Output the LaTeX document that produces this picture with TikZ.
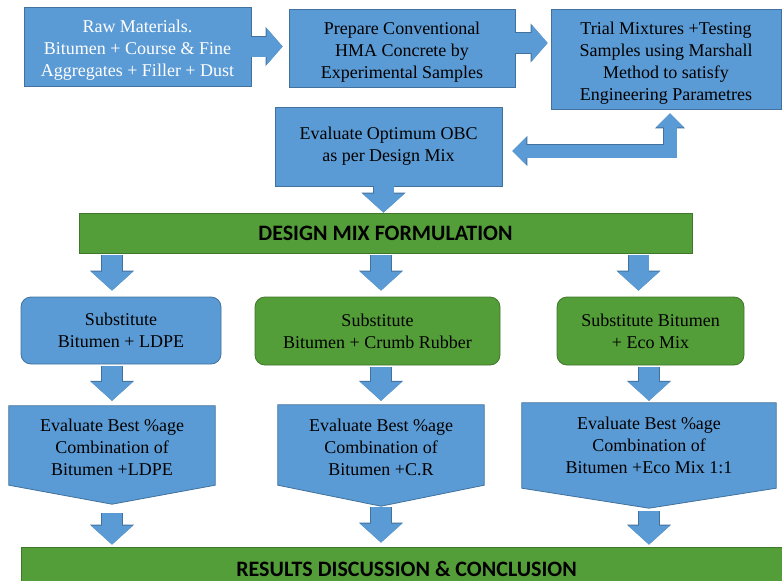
\documentclass[tikz,border=0pt]{standalone}
\usepackage{fontspec}
\setmainfont{Liberation Serif}
\newfontfamily\calibri{Carlito}
\usetikzlibrary{arrows.meta, backgrounds}
\definecolor{boxblue}{RGB}{91,155,213}
\definecolor{blueedge}{RGB}{65,113,156}
\definecolor{boxgreen}{RGB}{84,158,57}
\definecolor{greenedge}{RGB}{62,118,42}
\newcommand\padtop[1]{\rule{0pt}{#1}}
\tikzset{
	box/.style={draw=blueedge, fill=boxblue, line width=0.8pt, align=center, inner sep=2pt, font=\fontsize{18}{22}\selectfont},
	greenbox/.style={box, draw=greenedge, fill=boxgreen},
	roundbox/.style={rounded corners=10pt},
	evaltext/.style={align=center, inner sep=0pt, font=\fontsize{18}{22}\selectfont},
	pentagon/.style={draw=blueedge, fill=boxblue, line width=0.8pt},
	bar/.style={draw=greenedge, fill=boxgreen, line width=0.8pt, font=\calibri\bfseries\fontsize{22}{24}\selectfont},
	fat/.style={line width=20pt, draw=boxblue, -{Triangle[width=41pt,length=19pt]}, preaction={draw=blueedge, line width=21.4pt, -{Triangle[width=43pt,length=20pt]}}},
	sidefat/.style={line width=20pt, draw=boxblue, -{Triangle[width=36pt,length=16pt]}, preaction={draw=blueedge, line width=21.4pt, -{Triangle[width=38pt,length=17pt]}}},
	bent/.style={line width=13pt, draw=boxblue, {Triangle[width=27pt,length=14pt]}-{Triangle[width=27pt,length=14pt]}, preaction={draw=blueedge, line width=14.4pt, {Triangle[width=29pt,length=15pt]}-{Triangle[width=29pt,length=15pt]}}}
}

\begin{document}
\begin{tikzpicture}[x=1pt, y=-1pt]
	\useasboundingbox (0,0) rectangle (782,581);
	\clip (0,0) rectangle (782,581);
	%Top row
	\node[box, text=white, minimum width=227pt, minimum height=79pt] (raw) at (137.5,46.5) {\padtop{20pt}Raw Materials.\\ Bitumen + Course \& Fine\\ Aggregates + Filler + Dust};
	\node[box, minimum width=226pt, minimum height=78pt] (prep) at (402,48) {\padtop{20pt}Prepare Conventional\\ HMA Concrete by\\ Experimental Samples};
	\node[box, minimum width=230pt, minimum height=100pt] (trial) at (666,59) {\padtop{20pt}Trial Mixtures +Testing\\ Samples using Marshall\\ Method to satisfy\\ Engineering Parametres};
	%OBC
	\node[box, minimum width=227pt, minimum height=79pt] (obc) at (388.5,146.5) {Evaluate Optimum OBC\\ as per Design Mix};
	%Design mix
	\node[bar, minimum width=613pt, minimum height=40pt] (design) at (385.5,233) {DESIGN MIX FORMULATION};
	%Substitutes
	\node[box, roundbox, minimum width=200pt, minimum height=67pt] (ldpe) at (121,330.5) {Substitute\\ Bitumen + LDPE};
	\node[greenbox, roundbox, minimum width=245pt, minimum height=68pt] (crumb) at (377.5,331) {Substitute\\ Bitumen + Crumb Rubber};
	\node[greenbox, roundbox, minimum width=187pt, minimum height=68pt] (eco) at (650.5,331) {Substitute Bitumen\\ + Eco Mix};
	%Best combinations
	\node[evaltext, minimum width=206pt, minimum height=79pt] (e1) at (112,445.5) {\padtop{17pt}Evaluate Best \%age\\ Combination of\\ Bitumen +LDPE};
	\node[evaltext, minimum width=206pt, minimum height=80pt] (e2) at (381,445) {\padtop{17pt}Evaluate Best \%age\\ Combination of\\ Bitumen +C.R};
	\node[evaltext, minimum width=254pt, minimum height=85pt] (e3) at (649,445.5) {Evaluate Best \%age\\ Combination of\\ Bitumen +Eco Mix 1:1};
	\coordinate (e1tip) at ([yshift=-19pt]e1.south);
	\coordinate (e2tip) at ([yshift=-21pt]e2.south);
	\coordinate (e3tip) at ([yshift=-20pt]e3.south);
	\begin{scope}[on background layer]
		\filldraw[pentagon] (e1.north west) -- (e1.north east) -- (e1.south east) -- (e1tip) -- (e1.south west) -- cycle;
		\filldraw[pentagon] (e2.north west) -- (e2.north east) -- (e2.south east) -- (e2tip) -- (e2.south west) -- cycle;
		\filldraw[pentagon] (e3.north west) -- (e3.north east) -- (e3.south east) -- (e3tip) -- (e3.south west) -- cycle;
	\end{scope}
	%Results
	\node[bar, minimum width=771pt, minimum height=44pt] (results) at (406.5,569) {RESULTS DISCUSSION \& CONCLUSION};

	%Arrows
	\draw[sidefat, shorten >=6pt] (raw.east) -- (raw.east -| prep.west);
	\draw[sidefat, shorten >=3pt] ([yshift=5pt]prep.east) -- ([yshift=5pt]prep.east -| trial.west);
	\draw[bent, shorten <=4pt, shorten >=10pt] ([xshift=4pt]trial.south) |- ([yshift=-4.5pt]obc.east);
	\draw[fat] ([xshift=-5pt]obc.south) -- ([xshift=-5pt]obc.south |- design.north);
	\coordinate (ecoin) at ([xshift=-12pt]eco.north);
	\draw[fat, shorten <=2pt, shorten >=6pt] (design.south -| e1) -- (ldpe.north -| e1);
	\draw[fat, shorten <=2pt, shorten >=6pt] (design.south -| e2) -- (crumb.north -| e2);
	\draw[fat, shorten <=2pt, shorten >=6pt] (design.south -| ecoin) -- (ecoin);
	\draw[fat, shorten <=2pt, shorten >=5pt] (ldpe.south -| e1) -- (e1.north);
	\draw[fat, shorten <=2pt, shorten >=4pt] (crumb.south -| e2) -- (e2.north);
	\draw[fat, shorten <=2pt, shorten >=2pt] (eco.south -| e3) -- (e3.north);
	\draw[fat, shorten <=9pt, shorten >=2pt] (e1tip) -- (results.north -| e1tip);
	\draw[fat, shorten <=1pt, shorten >=4pt] (e2tip) -- (results.north -| e2tip);
	\draw[fat, shorten <=3pt, shorten >=2pt] (e3tip) -- (results.north -| e3tip);
\end{tikzpicture}
\end{document}
